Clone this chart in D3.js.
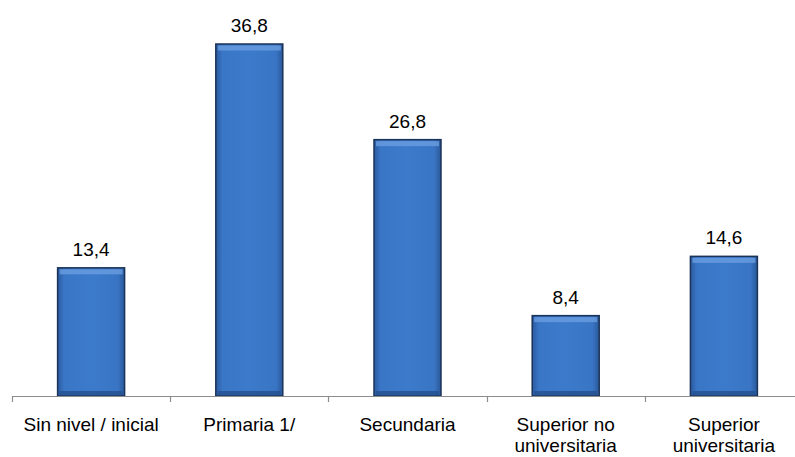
<!DOCTYPE html>
<html><head><meta charset="utf-8">
<script src="https://cdn.jsdelivr.net/npm/d3@7"></script>
<style>body{margin:0;background:#fff}svg{display:block}text{font-family:"Liberation Sans",Arial,sans-serif}</style>
</head><body><div id="c"></div>
<script>
const categories = ["Sin nivel / inicial","Primaria 1/","Secundaria","Superior no universitaria","Superior universitaria"];
const labelLines = [["Sin nivel / inicial"],["Primaria 1/"],["Secundaria"],["Superior no","universitaria"],["Superior","universitaria"]];
const values = [13.4,36.8,26.8,8.4,14.6];

const W=795,H=457;
const svg=d3.select("#c").append("svg").attr("width",W).attr("height",H);
const x=d3.scaleBand().domain(categories).range([12,803]).paddingInner(0).paddingOuter(0);
const y=d3.scaleLinear().domain([0,36.8]).range([396,44]);
const bw=67;

const defs=svg.append("defs");
const g1=defs.append("linearGradient").attr("id","gh").attr("x1",0).attr("x2",1).attr("y1",0).attr("y2",0);
g1.append("stop").attr("offset","0").attr("stop-color","#2a5aa0");
g1.append("stop").attr("offset","0.1").attr("stop-color","#3a76c6");
g1.append("stop").attr("offset","0.5").attr("stop-color","#3c7acb");
g1.append("stop").attr("offset","0.9").attr("stop-color","#3975c4");
g1.append("stop").attr("offset","1").attr("stop-color","#2a5899");

const bars=svg.selectAll("g.bar").data(values).join("g").attr("class","bar");
bars.append("rect")
  .attr("x",(d,i)=>x(categories[i])+x.bandwidth()/2-bw/2)
  .attr("y",d=>y(d)).attr("width",bw).attr("height",d=>y(0)-y(d))
  .attr("fill","url(#gh)").attr("stroke","#1c3358").attr("stroke-width",1.5);
bars.append("rect")
  .attr("x",(d,i)=>x(categories[i])+x.bandwidth()/2-bw/2+2)
  .attr("y",d=>y(d)+1.5).attr("width",bw-4).attr("height",5)
  .attr("fill","#6a9ee0").attr("opacity",0.8);
bars.append("rect")
  .attr("x",(d,i)=>x(categories[i])+x.bandwidth()/2-bw/2+2)
  .attr("y",d=>y(0)-5).attr("width",bw-4).attr("height",4)
  .attr("fill","#24508e").attr("opacity",0.8);

svg.selectAll("text.val").data(values).join("text").attr("class","val")
  .attr("x",(d,i)=>x(categories[i])+x.bandwidth()/2)
  .attr("y",d=>y(d)-12).attr("text-anchor","middle")
  .attr("font-size",19).attr("fill","#000")
  .text(d=>d3.format(".1f")(d).replace(".",","));

svg.append("line").attr("x1",12).attr("x2",W).attr("y1",396.5).attr("y2",396.5).attr("stroke","#8c8c8c").attr("stroke-width",1.2);
const bounds=categories.map(c=>x(c)).concat([x.range()[1]]);
svg.selectAll("line.tk").data(bounds).join("line").attr("class","tk")
  .attr("x1",d=>Math.round(d)+0.5).attr("x2",d=>Math.round(d)+0.5).attr("y1",396).attr("y2",402)
  .attr("stroke","#8c8c8c").attr("stroke-width",1.2);

const lab=svg.selectAll("text.cat").data(labelLines).join("text").attr("class","cat")
  .attr("x",(d,i)=>x(categories[i])+x.bandwidth()/2)
  .attr("y",431).attr("text-anchor","middle").attr("font-size",19).attr("fill","#000");
lab.selectAll("tspan").data(d=>d).join("tspan")
  .attr("x",function(){return this.parentNode.getAttribute("x");})
  .attr("dy",(d,i)=>i===0?0:21).text(d=>d);
</script></body></html>
